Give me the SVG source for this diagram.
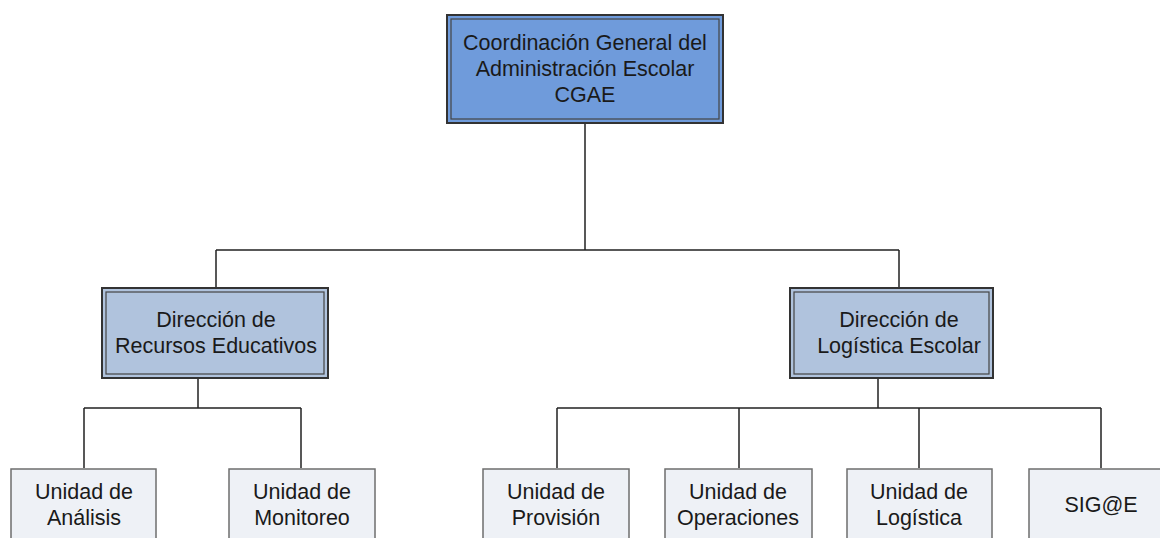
<svg xmlns="http://www.w3.org/2000/svg" width="1160" height="538" viewBox="0 0 1160 538">
<style>
text{font-family:"Liberation Sans",Arial,sans-serif;font-size:21.5px;fill:#1a1a1a;text-anchor:middle}
.o{stroke:#333;stroke-width:2}
.i{fill:none;stroke:#444;stroke-width:1.2}
.top{fill:#6f9bdb}
.mid{fill:#b0c3dd}
.bot{fill:#eef1f6;stroke:#6e6e6e;stroke-width:1.5}
.c{fill:none;stroke:#222;stroke-width:1.5}
</style>
<rect width="1160" height="538" fill="#fff"/>
<g id="connectors">
<path class="c" d="M585,124V250M216,250H899M216,250V288M899,250V288"/>
<path class="c" d="M198,378V408M84,408H301M84,408V468M301,408V468"/>
<path class="c" d="M878,378V408M557,408H1101M557,408V468M739,408V468M919,408V468M1101,408V468"/>
</g>
<g id="cgae">
<rect class="o top" x="447" y="15" width="276" height="108"/>
<rect class="i" x="451" y="19" width="268" height="100"/>
<text x="585" y="50">Coordinación General del</text>
<text x="585" y="76">Administración Escolar</text>
<text x="585" y="102">CGAE</text>
</g>
<g id="dre">
<rect class="o mid" x="102" y="288" width="226" height="90"/>
<rect class="i" x="106" y="292" width="218" height="82"/>
<text x="216" y="327">Dirección de</text>
<text x="216" y="353">Recursos Educativos</text>
</g>
<g id="dle">
<rect class="o mid" x="790" y="288" width="203" height="90"/>
<rect class="i" x="794" y="292" width="195" height="82"/>
<text x="899" y="327">Dirección de</text>
<text x="899" y="353">Logística Escolar</text>
</g>
<g id="analisis">
<rect class="bot" x="11" y="469" width="145" height="90"/>
<text x="84" y="499">Unidad de</text>
<text x="84" y="525">Análisis</text>
</g>
<g id="monitoreo">
<rect class="bot" x="229" y="469" width="146" height="90"/>
<text x="302" y="499">Unidad de</text>
<text x="302" y="525">Monitoreo</text>
</g>
<g id="provision">
<rect class="bot" x="483" y="469" width="146" height="90"/>
<text x="556" y="499">Unidad de</text>
<text x="556" y="525">Provisión</text>
</g>
<g id="operaciones">
<rect class="bot" x="665" y="469" width="147" height="90"/>
<text x="738" y="499">Unidad de</text>
<text x="738" y="525">Operaciones</text>
</g>
<g id="logistica">
<rect class="bot" x="847" y="469" width="145" height="90"/>
<text x="919" y="499">Unidad de</text>
<text x="919" y="525">Logística</text>
</g>
<g id="sigae">
<rect class="bot" x="1029" y="469" width="146" height="90"/>
<text x="1101" y="512">SIG@E</text>
</g>
</svg>
